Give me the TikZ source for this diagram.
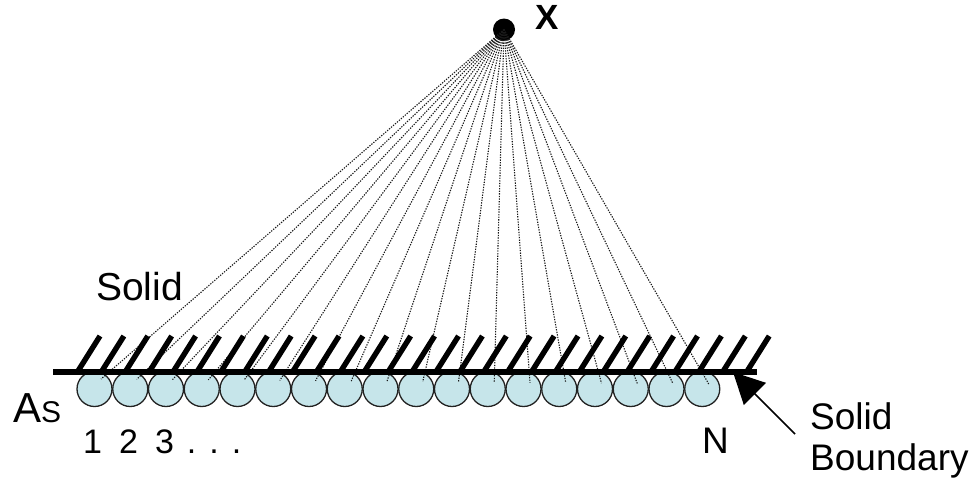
\documentclass[tikz,border=0pt]{standalone}
\usepackage{fontspec}
\setmainfont{Liberation Sans}
\usetikzlibrary{arrows.meta}
\definecolor{ballfill}{HTML}{C6E5EA}
\definecolor{balledge}{HTML}{222222}
\tikzset{
  ball/.style={circle,draw=balledge,line width=1.3pt,fill=ballfill,minimum size=35pt,inner sep=0pt},
  hatch/.style={line width=5.4pt,black},
  wallline/.style={line width=6pt,black},
  ray/.style={line width=1.1pt,dash pattern=on 1.3pt off 1.3pt,black!90},
  lab/.style={inner sep=0pt,anchor=base west,font=\fontsize{37}{42}\selectfont},
  dotnode/.style={circle,fill=black,minimum size=22pt,inner sep=0pt},
  pointer/.style={line width=1.6pt,-{Triangle[length=31pt,width=31pt]}}
}
\begin{document}
\begin{tikzpicture}[x=1pt,y=-1pt]
\useasboundingbox (0,0) rectangle (976,480);
\node[dotnode] (x) at (504,29.5) {};
% balls
\foreach \i in {0,...,17}{
  \pgfmathsetmacro{\cx}{94.5+35.75*\i}
  \node[ball] (c\i) at (\cx,389) {};
}
% rays
\foreach \i in {0,...,17}{
  \pgfmathsetmacro{\ey}{379+5*\i/17}
  \path (c\i) ++(6.5,0) coordinate (t\i);
  \coordinate (e\i) at (t\i |- 0,\ey);
  \draw[ray] (x.center) -- (e\i);
}
% wall
\coordinate (wl) at (53,371.5);
\coordinate (wr) at (757,371.5);
\draw[wallline] (wl) -- (wr);
\foreach \i in {0,...,28}{
  \pgfmathsetmacro{\hx}{78+23.9*\i}
  \coordinate (hb\i) at (\hx,371);
  \coordinate (ht\i) at (\hx+22,336);
  \draw[hatch] (hb\i) -- (ht\i);
}
\node[lab,font=\fontsize{35}{40}\bfseries\selectfont] (xl) at (535,29) {X};
\node[lab,font=\fontsize{39}{44}\selectfont] (sl) at (96,300) {Solid};
\node[lab,font=\fontsize{42}{46}\selectfont] (as) at (13,422) {A\fontsize{30}{34}\selectfont S};
\node[lab,font=\fontsize{34}{40}\selectfont] (nums) at (83,453) {1\hspace{17pt}2\hspace{17pt}3\hspace{13pt}.\hspace{13pt}.\hspace{13pt}.};
\node[lab] (nl) at (702,453) {N};
\node[lab] (b1) at (810,429) {Solid};
\node[lab] (b2) at (810,470) {Boundary};
\coordinate (as0) at (795,434);
\coordinate (at0) at (733,372);
\draw[pointer] (as0) -- (at0);
\end{tikzpicture}
\end{document}
